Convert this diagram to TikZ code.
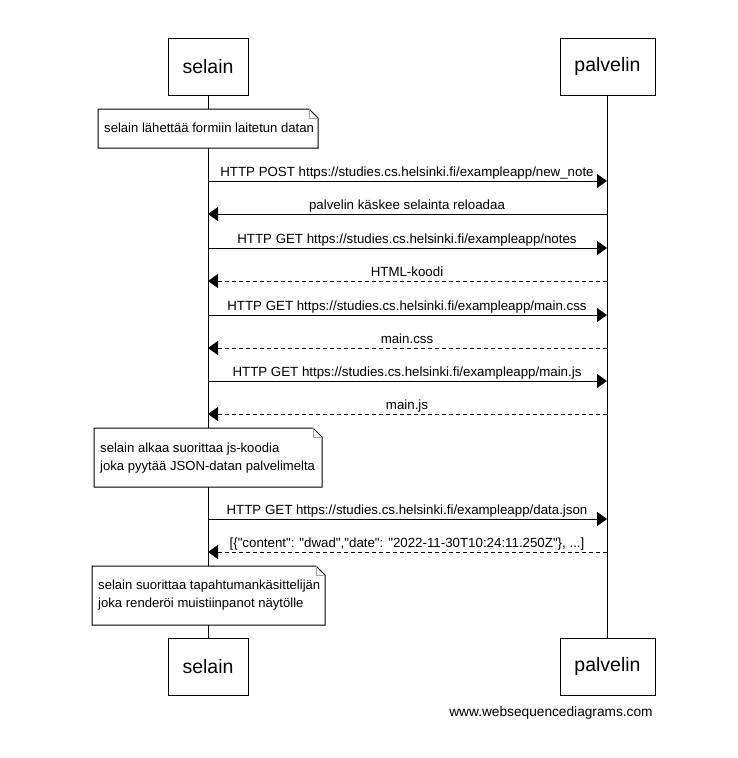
\documentclass[tikz,border=0pt]{standalone}
\usepackage{fontspec}
\setmainfont{Liberation Sans}[Ligatures=TeXOff]
\usetikzlibrary{arrows.meta}
\begin{document}
\begin{tikzpicture}[x=1pt,y=-1pt,
  actor/.style={draw,line width=1pt,minimum width=80pt,minimum height=57pt,inner sep=0pt,font=\fontsize{19.5}{22}\selectfont},
  lifeline/.style={line width=1pt},
  msg/.style={line width=1pt,-{Triangle[length=10pt,width=14pt]}},
  reply/.style={msg,dash pattern=on 4pt off 3pt},
  lbl/.style={font=\fontsize{13.3}{15}\selectfont,inner sep=0pt,anchor=base},
  notetext/.style={font=\fontsize{13.1}{18}\selectfont,align=left,inner sep=0pt,anchor=north west},
  notebox/.style={line width=1pt,fill=white},
  fold/.style={line width=1pt,draw=gray!70}]
\useasboundingbox (0,0) rectangle (737,758);
\fill[white] (0,0) rectangle (737,758);

% participants
\node[actor] (s1) at (208,66.5) {selain};
\node[actor,minimum width=95pt] (p1) at (607.5,66.5) {palvelin};
\node[actor] (s2) at (208,666.5) {selain};
\node[actor,minimum width=95pt] (p2) at (607.5,666.5) {palvelin};

% lifelines
\draw[lifeline] (s1.south) -- (s2.north);
\draw[lifeline] (p1.south) -- (p2.north);

% message anchor points on the lifelines
\foreach \n/\y in {a/181,b/214,c/248,d/281,e/315,f/348,g/381,h/414,i/519,j/552}{
  \coordinate (s\n) at (208,\y);
  \coordinate (p\n) at (607,\y);
}

% messages
\draw[msg] (sa) -- (pa);
\node[lbl] at (407,176) {HTTP POST https://studies.cs.helsinki.fi/exampleapp/new\_note};
\draw[msg] (pb) -- (sb);
\node[lbl] at (407,209) {palvelin käskee selainta reloadaa};
\draw[msg] (sc) -- (pc);
\node[lbl] at (407,243) {HTTP GET https://studies.cs.helsinki.fi/exampleapp/notes};
\draw[reply] (pd) -- (sd);
\node[lbl] at (407,276) {HTML-koodi};
\draw[msg] (se) -- (pe);
\node[lbl] at (407,310) {HTTP GET https://studies.cs.helsinki.fi/exampleapp/main.css};
\draw[reply] (pf) -- (sf);
\node[lbl] at (407,343) {main.css};
\draw[msg] (sg) -- (pg);
\node[lbl] at (407,376) {HTTP GET https://studies.cs.helsinki.fi/exampleapp/main.js};
\draw[reply] (ph) -- (sh);
\node[lbl] at (407,409) {main.js};
\draw[msg] (si) -- (pi);
\node[lbl] at (407,514) {HTTP GET https://studies.cs.helsinki.fi/exampleapp/data.json};
\draw[reply] (pj) -- (sj);
\node[lbl] at (407,547) {[\{"content": "dwad","date": "2022-11-30T10:24:11.250Z"\}, ...]};

% notes on the browser lifeline
\newcommand{\notebox}[5]{% x0, y0, x1, y1, name
  \draw[notebox] (#1,#2) -- (#3-9,#2) -- (#3,#2+9) -- (#3,#4) -- (#1,#4) -- cycle;
  \draw[fold] (#3-9,#2) -- (#3-9,#2+9) -- (#3,#2+9);
  \coordinate (#5) at (#1,#2);
}
\notebox{98}{109}{318}{148}{n1}
\node[notetext] at ([shift={(6,14)}]n1) {selain lähettää formiin laitetun datan};
\notebox{94}{428}{322}{487}{n2}
\node[notetext] at ([shift={(6,15)}]n2) {selain alkaa suorittaa js-koodia\\joka pyytää JSON-datan palvelimelta};
\notebox{92}{566}{325}{625}{n3}
\node[notetext] at ([shift={(6,14)}]n3) {selain suorittaa tapahtumankäsittelijän\\joka renderöi muistiinpanot näytölle};

% footer
\node[font=\fontsize{13.7}{16}\selectfont,inner sep=0pt] (wsd) at (551,713) {www.websequencediagrams.com};
\end{tikzpicture}
\end{document}
